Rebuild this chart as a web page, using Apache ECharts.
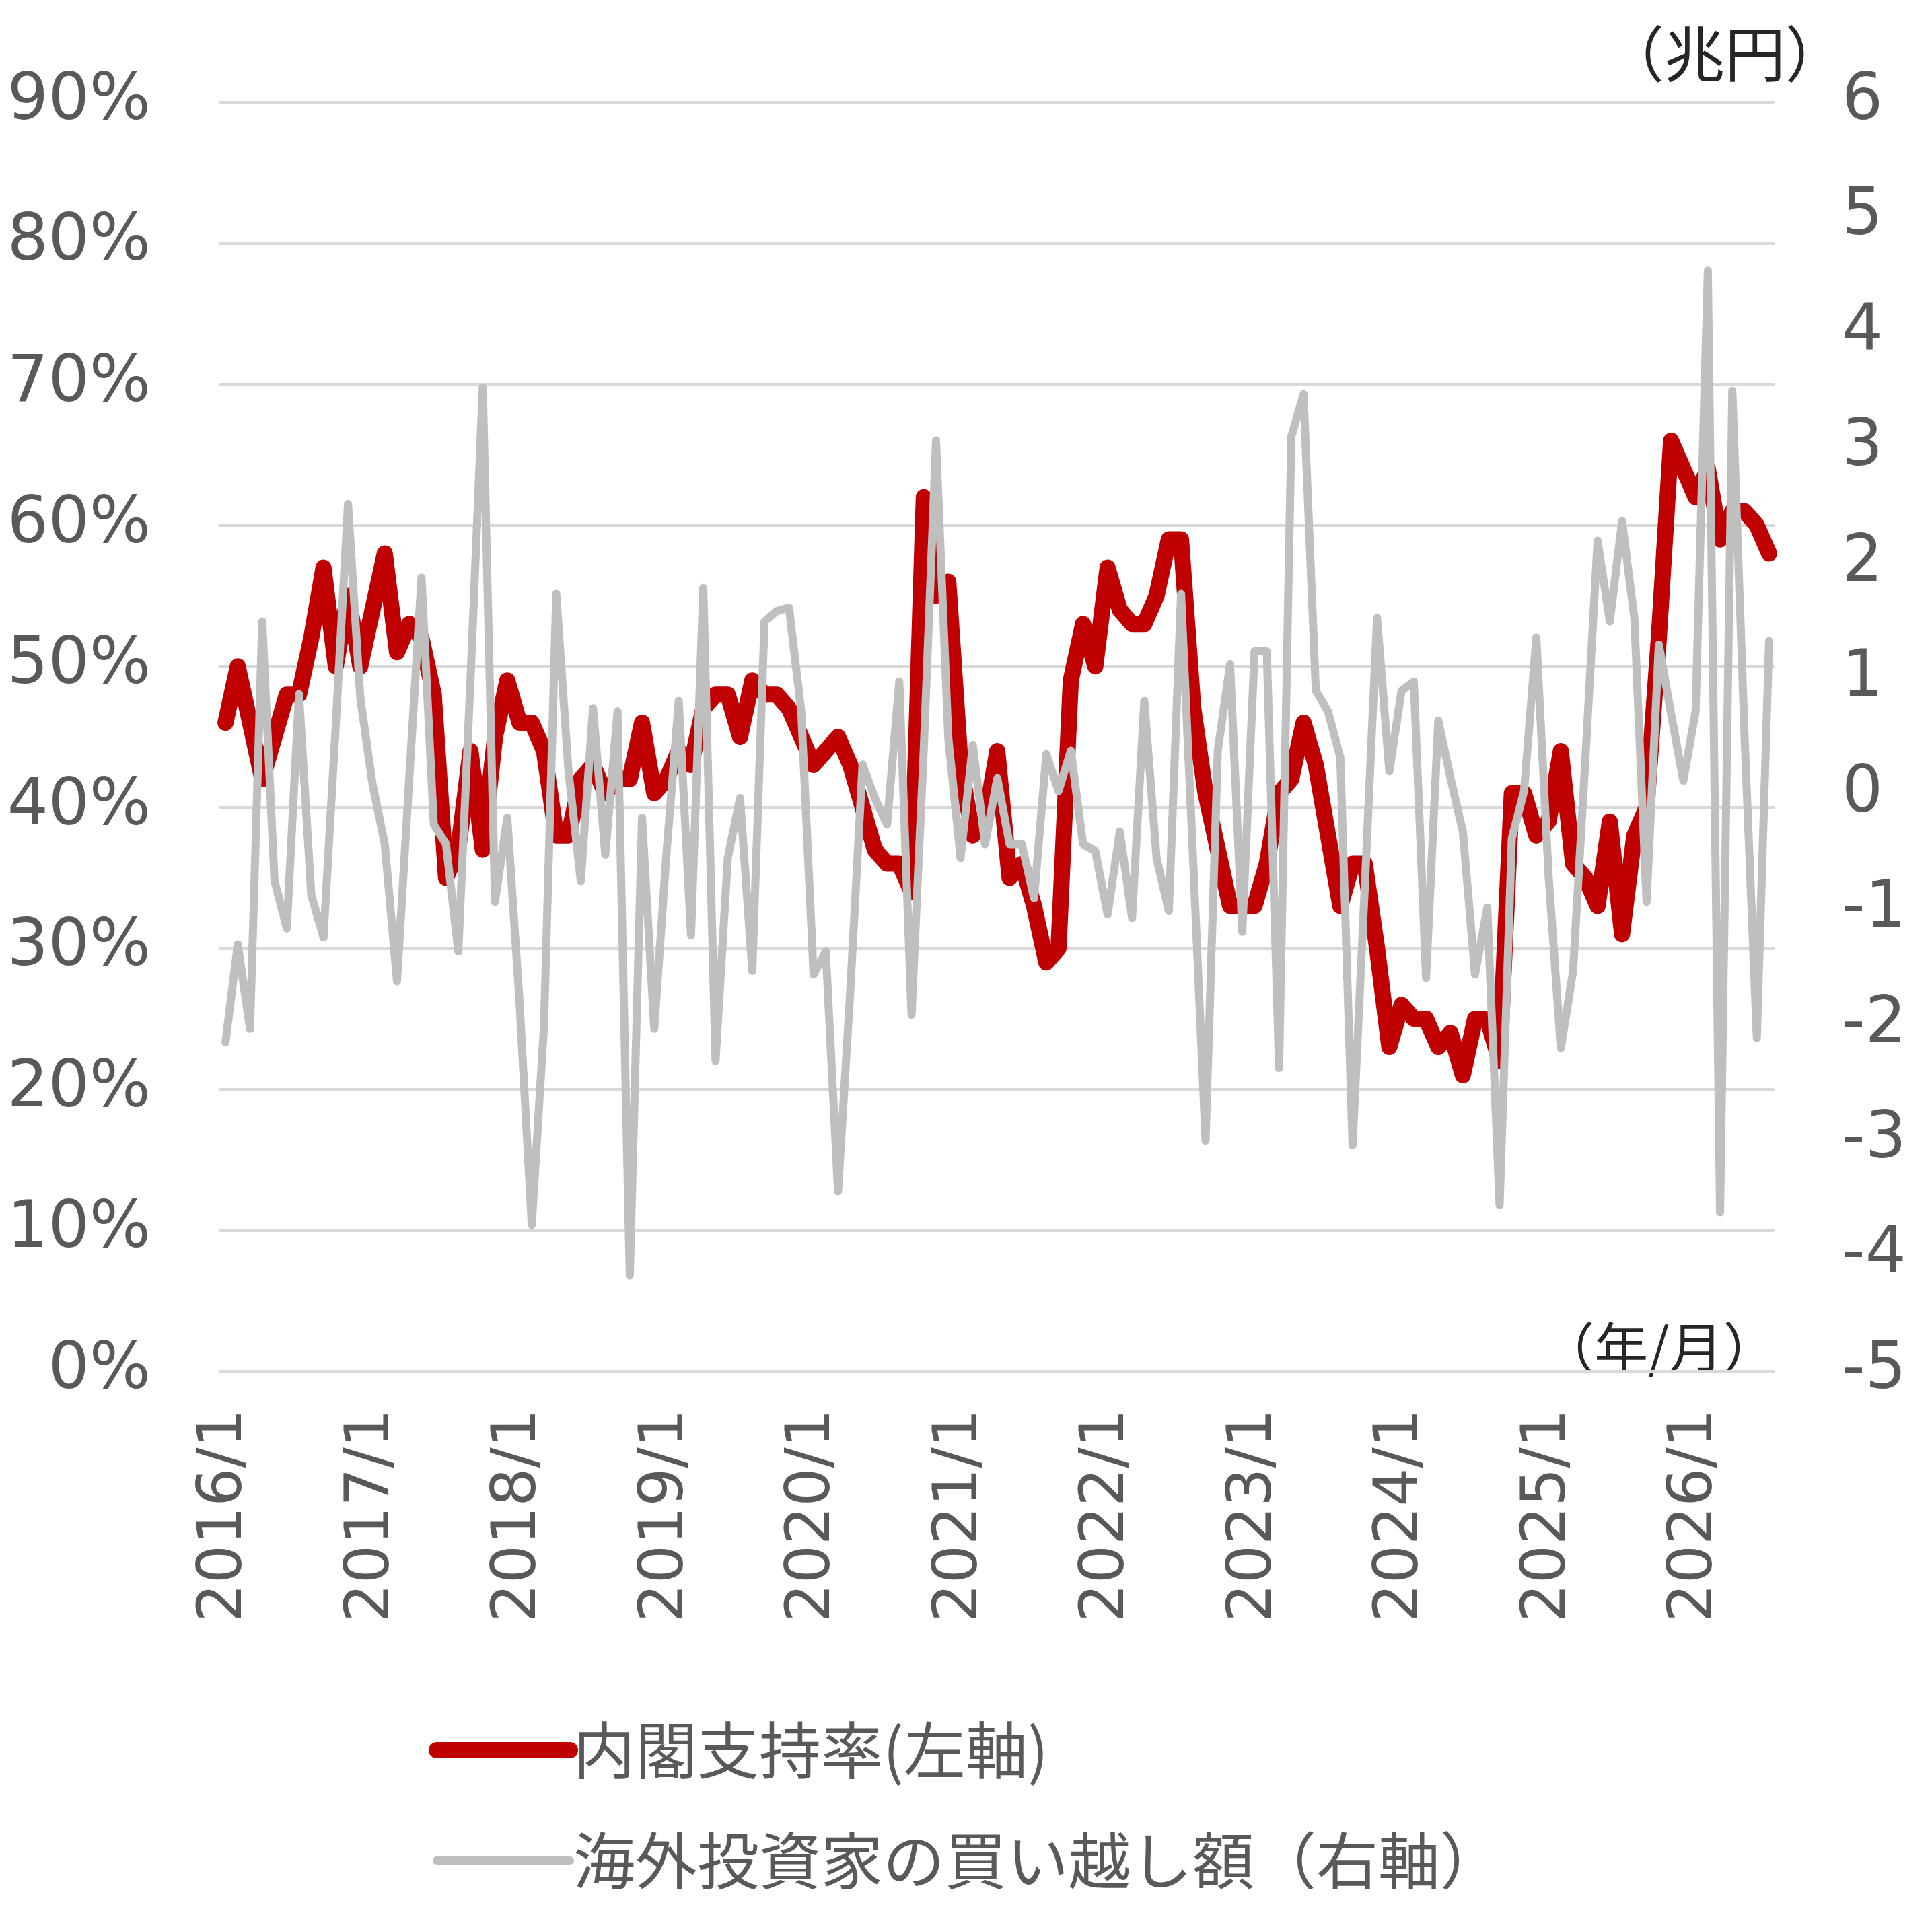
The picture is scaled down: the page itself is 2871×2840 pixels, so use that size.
<!DOCTYPE html>
<html>
<head>
<meta charset="utf-8">
<title>内閣支持率と海外投資家の買い越し額</title>
<script src="https://cdn.jsdelivr.net/npm/echarts@6/dist/echarts.min.js"></script>
<style>
  html, body { margin: 0; padding: 0; background: #fff; }
  #main { width: 2871px; height: 2840px; }
</style>
</head>
<body>
<div id="main"></div>
<script type="text/javascript">
// 月次カテゴリ 2016/1 ～ 2026/7
var startYear = 2016;
var monthCount = 127;
var months = [];
for (var i = 0; i < monthCount; i++) {
  months.push((startYear + Math.floor(i / 12)) + '/' + (i % 12 + 1));
}

// 内閣支持率(左軸, %)
var approval = [
  46, 50, 46, 42, 45, 48, 48, 52, 57, 50, 55, 50,   // 2016
  54, 58, 51, 53, 52, 48, 35, 37, 44, 37, 45, 49,   // 2017
  46, 46, 44, 38, 38, 42, 43, 41, 42, 42, 46, 41,   // 2018
  42, 44, 43, 47, 48, 48, 45, 49, 48, 48, 47, 45,   // 2019
  43, 44, 45, 43, 40, 37, 36, 36, 34, 62, 55, 56,   // 2020
  43, 38, 39, 44, 35, 36, 33, 29, 30, 49, 53, 50,   // 2021
  57, 54, 53, 53, 55, 59, 59, 47, 41, 37, 33, 33,   // 2022
  33, 36, 41, 42, 46, 43, 38, 33, 36, 36, 30, 23,   // 2023
  26, 25, 25, 23, 24, 21, 25, 25, 22, 41, 41, 38,   // 2024
  39, 44, 36, 35, 33, 39, 31, 38, 40, 52, 66, 64,   // 2025
  62, 64, 59, 61, 61, 60, 58                        // 2026
];

// 海外投資家の買い越し額(右軸, 兆円)
var foreignNet = [
  -2.15, -1.30, -2.03, 1.50, -0.75, -1.16, 0.87, -0.87, -1.24, 0.60, 2.52, 0.84,   // 2016
  0.09, -0.43, -1.62, 0.14, 1.88, -0.26, -0.43, -1.36, 1.00, 3.53, -0.93, -0.20,   // 2017
  -1.80, -3.73, -2.00, 1.74, 0.20, -0.75, 0.75, -0.52, 0.72, -4.17, -0.20, -2.03,  // 2018
  -0.50, 0.81, -1.22, 1.79, -2.31, -0.55, -0.03, -1.53, 1.50, 1.59, 1.62, 0.72,    // 2019
  -1.56, -1.36, -3.44, -1.70, 0.26, -0.03, -0.26, 0.98, -1.91, 0.40, 3.07, 0.49,   // 2020
  -0.55, 0.43, -0.43, 0.14, -0.43, -0.43, -0.90, 0.35, 0.03, 0.38, -0.43, -0.49,   // 2021
  -1.04, -0.32, -1.07, 0.81, -0.55, -1.01, 1.74, -0.60, -3.00, 0.38, 1.13, -1.19,  // 2022
  1.24, 1.24, -2.37, 3.10, 3.47, 0.90, 0.72, 0.32, -3.04, -0.80, 1.53, 0.20,       // 2023
  0.90, 0.98, -1.59, 0.64, 0.14, -0.32, -1.56, -0.98, -3.56, -0.38, 0.03, 1.36,    // 2024
  -0.70, -2.20, -1.53, 0.30, 2.20, 1.50, 2.37, 1.53, -0.93, 1.30, 0.70, 0.12,      // 2025
  0.72, 4.54, -3.62, 3.50, 0.50, -2.11, 1.33                                       // 2026
];

var seriesNames = ['内閣支持率(左軸)', '海外投資家の買い越し額（右軸）'];
var labelColor = '#595959';
var numFont = 'DejaVu Sans';
var jpFont = 'Noto Sans CJK JP';

var myChart = echarts.init(document.getElementById('main'));

myChart.setOption({
  animation: false,
  backgroundColor: '#ffffff',
  grid: { left: 326, right: 233, top: 152, bottom: 802 },
  legend: {
    orient: 'vertical',
    left: 637,
    top: 2546,
    padding: 0,
    itemWidth: 198,
    itemHeight: 24,
    itemGap: 54,
    itemStyle: { opacity: 0 },
    textStyle: {
      fontFamily: jpFont, fontSize: 92, color: labelColor,
      lineHeight: 110
    },
    data: [
      { name: seriesNames[0], lineStyle: { width: 24 } },
      { name: seriesNames[1], lineStyle: { width: 12 } }
    ]
  },
  xAxis: {
    type: 'category',
    data: months,
    axisLine: { show: false },
    axisTick: { show: false },
    axisLabel: {
      interval: function (idx) { return idx % 12 === 0; },
      rotate: 90,
      margin: 56,
      fontFamily: numFont,
      fontSize: 90,
      color: labelColor
    }
  },
  yAxis: [
    {
      type: 'value',
      min: 0,
      max: 90,
      interval: 10,
      axisLine: { show: false },
      axisTick: { show: false },
      splitLine: { lineStyle: { color: '#d9d9d9', width: 4 } },
      axisLabel: {
        formatter: '{value}%',
        margin: 102,
        fontFamily: numFont,
        fontSize: 96,
        color: labelColor
      }
    },
    {
      type: 'value',
      min: -5,
      max: 6,
      interval: 1,
      axisLine: { show: false },
      axisTick: { show: false },
      splitLine: { show: false },
      axisLabel: {
        margin: 99,
        fontFamily: numFont,
        fontSize: 96,
        color: labelColor
      }
    }
  ],
  graphic: [
    {
      type: 'text',
      x: 2563,
      y: 80,
      style: {
        text: '（兆円）',
        fontFamily: jpFont,
        fontSize: 90,
        fill: '#262626',
        textAlign: 'center',
        textVerticalAlign: 'middle'
      }
    },
    {
      type: 'text',
      x: 2465,
      y: 2002,
      style: {
        text: '（年/月）',
        fontFamily: jpFont,
        fontSize: 80,
        fill: '#262626',
        textAlign: 'center',
        textVerticalAlign: 'middle'
      }
    }
  ],
  series: [
    {
      name: seriesNames[0],
      type: 'line',
      yAxisIndex: 0,
      data: approval,
      symbol: 'none',
      color: '#C00000',
      lineStyle: { color: '#C00000', width: 24, cap: 'round', join: 'round' },
      z: 2
    },
    {
      name: seriesNames[1],
      type: 'line',
      yAxisIndex: 1,
      data: foreignNet,
      symbol: 'none',
      color: '#BFBFBF',
      lineStyle: { color: '#BFBFBF', width: 12, cap: 'round', join: 'round' },
      z: 3
    }
  ]
});
</script>
</body>
</html>
